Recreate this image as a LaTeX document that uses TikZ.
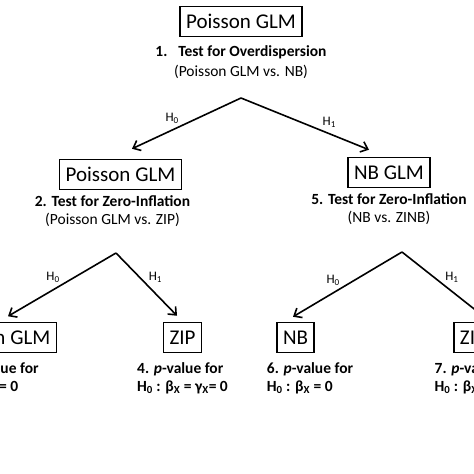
\documentclass[tikz,border=0pt]{standalone}
\usepackage{fontspec}
\setmainfont{Carlito}
\usetikzlibrary{arrows.meta}

\begin{document}
\begin{tikzpicture}[x=1pt, y=-1pt,
		model/.style={draw, rectangle, line width=1.5pt, minimum height=30pt, inner xsep=6pt, font=\fontsize{21}{25}\selectfont},
		note/.style={align=center, inner sep=2pt, label distance=3pt, font=\fontsize{15.5}{18.5}\selectfont},
		pval/.style={align=left, inner sep=2pt, label distance=7pt, font=\fontsize{15.5}{18.5}\selectfont\bfseries},
		hyp/.style={inner sep=1.5pt, font=\fontsize{13}{15}\selectfont},
		branch/.style={-{Straight Barb[length=6.5pt, width=11pt]}, line width=1.6pt}]
				\useasboundingbox (0, 0) rectangle (474, 474);
				\clip (0, 0) rectangle (474, 474);
				\node[model, label={[note, label distance=6pt, font=\fontsize{15.5}{20}\selectfont]below:{\textbf{1.\hspace{0.7em}Test for Overdispersion}\\(Poisson GLM vs. NB)}}] (P1)at(241, 21.5) {Poisson GLM};
				\node[model, label={[note, xshift=-8pt]below:{\textbf{2. Test for Zero-Inflation}\\(Poisson GLM vs. ZIP)}}] (P2)at(120.5, 174.5) {Poisson GLM};
				\node[model, label={[note]below:{\textbf{5. Test for Zero-Inflation}\\(NB vs. ZINB)}}] (NBG)at(389, 172.5) {NB GLM};
				\node[model, label={[pval]below:{3. \textit{p}-value for\\H\textsubscript{0} : β\textsubscript{X} = 0}}] (P3)at(-4.5, 337.5) {Poisson GLM};
				\node[model, label={[pval]below:{4. \textit{p}-value for\\H\textsubscript{0} : β\textsubscript{X} = γ\textsubscript{X}= 0}}] (ZIP)at(182.5, 337.5) {ZIP};
				\node[model, label={[pval, xshift=14.5pt]below:{6. \textit{p}-value for\\H\textsubscript{0} : β\textsubscript{X} = 0}}] (NB)at(295.5, 337.5) {NB};
				\node[model, label={[pval]below:{7. \textit{p}-value for\\H\textsubscript{0} : β\textsubscript{X} = γ\textsubscript{X}= 0}}] (ZINB)at(480, 337.5) {ZINB};
				\coordinate (S1)at(241, 98);
				\coordinate (S2)at(116, 253);
				\coordinate (S5)at(402, 252);
				\draw[branch] (S1) -- ([xshift=11.5pt, yshift=10pt]P2.north) node[hyp, pos=0.55, above left] {H\textsubscript{0}};
				\draw[branch] (S1) -- ([xshift=-20pt, yshift=7pt]NBG.north) node[hyp, pos=0.62, above right] {H\textsubscript{1}};
				\draw[branch] (S2) -- ([xshift=12.5pt, yshift=5.5pt]P3.north) node[hyp, pos=0.5, above left] {H\textsubscript{0}};
				\draw[branch] (S2) -- ([xshift=-5.5pt, yshift=6pt]ZIP.north) node[hyp, pos=0.5, above right] {H\textsubscript{1}};
				\draw[branch] (S5) -- ([xshift=-2.5pt, yshift=5pt]NB.north) node[hyp, pos=0.55, above left] {H\textsubscript{0}};
				\draw[branch] (S5) -- ([xshift=4pt, yshift=5pt]ZINB.north) node[hyp, pos=0.5, above right] {H\textsubscript{1}};
			\end{tikzpicture}
\end{document}
